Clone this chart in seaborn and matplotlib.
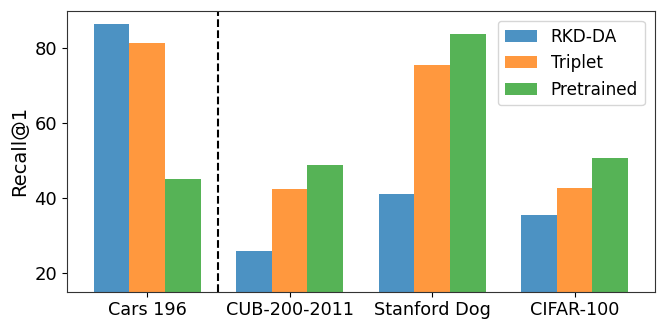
import pandas as pd
import matplotlib
matplotlib.use('Agg')
import matplotlib.pyplot as plt
import seaborn as sns

datasets = ['Cars 196', 'CUB-200-2011', 'Stanford Dog', 'CIFAR-100']
methods = ['RKD-DA', 'Triplet', 'Pretrained']
rkd_da = [86.3, 25.9, 41.0, 35.4]
triplet = [81.3, 42.3, 75.4, 42.8]
pretrained = [45.2, 48.8, 83.8, 50.8]
colors = ['#1f77b4', '#ff7f0e', '#2ca02c']

rows = []
for m, vals in zip(methods, [rkd_da, triplet, pretrained]):
    for d, v in zip(datasets, vals):
        rows.append({'dataset': d, 'method': m, 'recall': v})
df = pd.DataFrame(rows)

plt.rcParams['font.family'] = ['DejaVu Sans']
fig = plt.figure(figsize=(6.6, 3.22), dpi=100)
ax = fig.add_axes([0.1015, 0.094, 0.8905, 0.873])

sns.barplot(data=df, x='dataset', y='recall', hue='method', hue_order=methods,
            palette=colors, saturation=1, alpha=0.8, width=0.75, ax=ax)

ax.axvline(0.5, color='k', linestyle='--', linewidth=1.5)
ax.set_ylim(15, 90)
ax.set_xlim(-0.5625, 3.5625)
ax.set_yticks([20, 40, 60, 80])
ax.set_xlabel('')
ax.set_ylabel('Recall@1', fontsize=14)
ax.tick_params(axis='y', labelsize=13)
ax.tick_params(axis='x', labelsize=12.7)
for s in ax.spines.values():
    s.set_color('#333333')
ax.legend(title=None, loc='upper right', fontsize=12.2, borderaxespad=0.6,
          handlelength=1.9)

plt.savefig('out.png')
plt.close()
